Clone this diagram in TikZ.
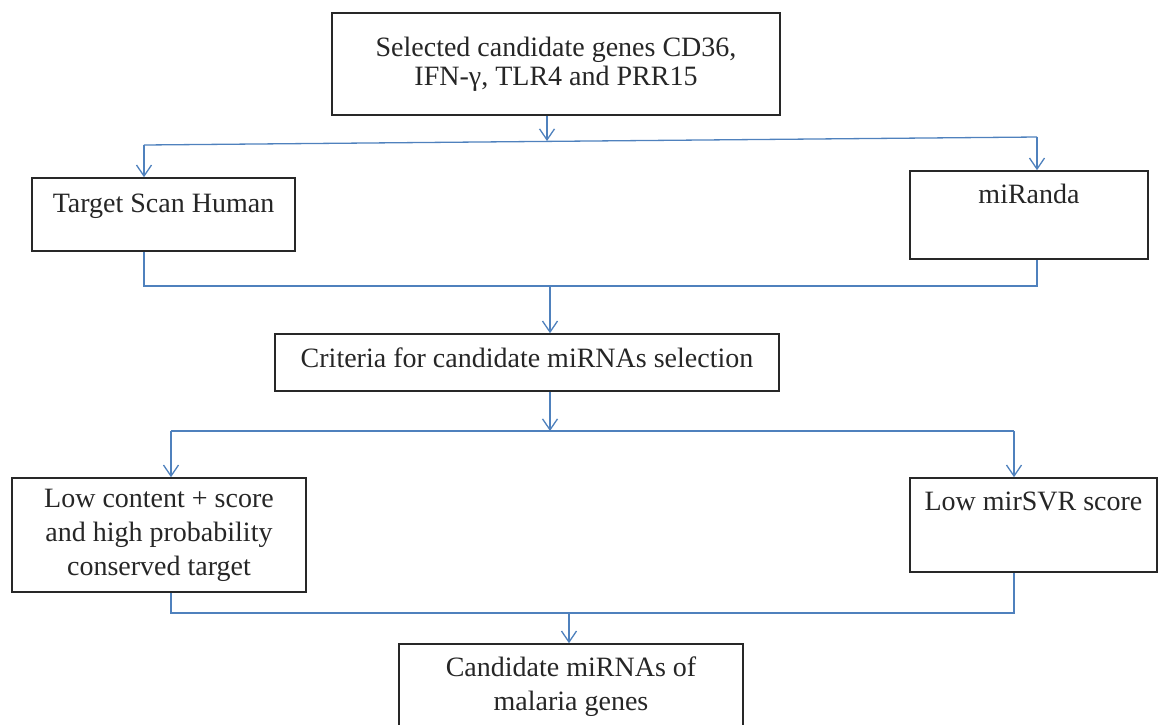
\documentclass[tikz,border=0pt]{standalone}
\usepackage{fontspec}
\setmainfont{Liberation Serif}
\usetikzlibrary{arrows.meta}
\definecolor{linkblue}{RGB}{79,129,189}
\definecolor{boxline}{RGB}{40,40,40}

\begin{document}
\begin{tikzpicture}[x=1pt,y=-1pt,
  box/.style={draw=boxline,line width=1.6pt,align=center,inner sep=3pt,text=black!85,font=\fontsize{28}{34}\selectfont},
  link/.style={draw=linkblue,line width=1.3pt},
  arr/.style={link,-{Straight Barb[length=11pt,width=15pt]}}]

\useasboundingbox (0,0) rectangle (1159,724);
\clip (0,0) rectangle (1159,724);

\node (genes) at (556,64) [box,minimum width=448pt,minimum height=102pt,font=\fontsize{28}{29}\selectfont] {Selected candidate genes CD36,\\IFN-γ, TLR4 and PRR15};

\node (scan) at (163.5,214.5) [box,minimum width=263pt,minimum height=73pt,text height=20pt,text depth=25pt] {Target Scan Human};
\node (miranda) at (1029,215) [box,minimum width=238pt,minimum height=88pt,text height=20pt,text depth=44pt] {miRanda};

\node (criteria) at (527,362.5) [box,minimum width=504pt,minimum height=57pt,text height=20pt,text depth=11pt] {Criteria for candidate miRNAs selection};

\node (lowcs) at (159,535) [box,minimum width=294pt,minimum height=114pt] {Low content + score\\and high probability\\conserved target};
\node (svr) at (1033.5,525) [box,minimum width=247pt,minimum height=94pt,text height=20pt,text depth=50pt] {Low mirSVR score};

\node (cand) at (571,687) [box,minimum width=344pt,minimum height=86pt] {Candidate miRNAs of\\malaria genes};

\coordinate (a1) at (547,141);
\coordinate (a1l) at (144,145);
\coordinate (a1r) at (1037,137);
\coordinate (b1) at (550,286);
\coordinate (b1l) at (144,286);
\coordinate (b1r) at (1037,286);
\coordinate (c1) at (550,431);
\coordinate (c1l) at (171,431);
\coordinate (c1r) at (1014,431);
\coordinate (d1) at (569,613);
\coordinate (d1l) at (171,613);
\coordinate (d1r) at (1014,613);

\draw [arr] (a1 |- genes.south) -- (a1);
\draw [link] (a1l) -- (a1r);
\draw [arr] (a1l) -- (a1l |- scan.north);
\draw [arr] (a1r) -- (a1r |- miranda.north);

\draw [link] (b1l |- scan.south) -- (b1l) -- (b1r) -- (b1r |- miranda.south);
\draw [arr] (b1) -- (b1 |- criteria.north);

\draw [arr] (c1 |- criteria.south) -- (c1);
\draw [link] (c1l) -- (c1r);
\draw [arr] (c1l) -- (c1l |- lowcs.north);
\draw [arr] (c1r) -- (c1r |- svr.north);

\draw [link] (d1l |- lowcs.south) -- (d1l) -- (d1r) -- (d1r |- svr.south);
\draw [arr] (d1) -- (d1 |- cand.north);

\end{tikzpicture}
\end{document}
